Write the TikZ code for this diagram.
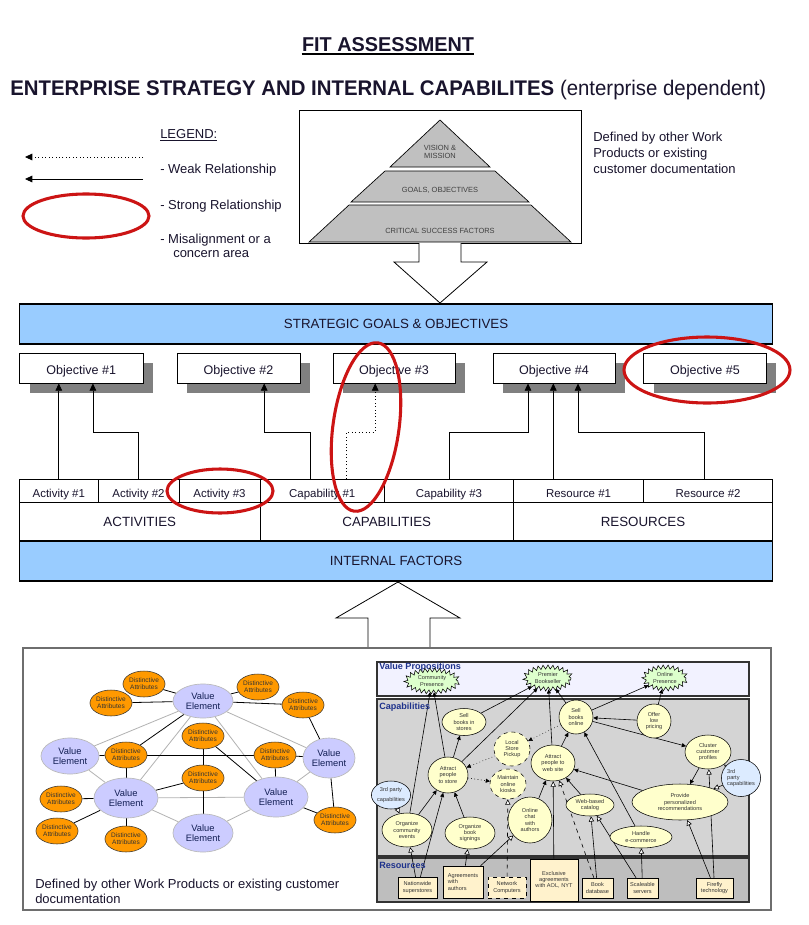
\documentclass[tikz,border=0pt]{standalone}
\usepackage{fontspec}
\setmainfont{Liberation Sans}
\usetikzlibrary{shapes.geometric,arrows.meta,calc,shadows,decorations.pathmorphing}
\pgfdeclarelayer{bg}
\pgfsetlayers{bg,main}
\newdimen\pxu \pxu=0.75pt
\definecolor{sblue}{RGB}{153,204,255}
\definecolor{pgray}{RGB}{192,192,192}
\definecolor{shad}{RGB}{128,128,128}
\definecolor{cred}{RGB}{204,20,20}
\definecolor{lav}{RGB}{204,204,255}
\definecolor{orng}{RGB}{255,153,0}
\definecolor{vpfill}{RGB}{242,242,255}
\definecolor{capgray}{RGB}{212,212,212}
\definecolor{resgray}{RGB}{190,190,190}
\definecolor{capy}{RGB}{255,255,204}
\definecolor{vpg}{RGB}{221,255,204}
\definecolor{resy}{RGB}{255,242,204}
\definecolor{tpblue}{RGB}{220,235,255}
\definecolor{navy}{RGB}{30,50,140}
\definecolor{txt}{RGB}{25,20,45}
\definecolor{framec}{RGB}{110,110,110}
\begin{document}
\begin{tikzpicture}[x=0.75pt,y=-0.75pt,
  every node/.style={text=txt},
  lbl/.style={inner sep=0, font=\fontsize{9.75}{11}\selectfont},
  arr/.style={-{Triangle[length=5.5pt,width=5pt]}, line width=0.6pt},
  redring/.style={draw=cred, line width=2.3pt},
  bar/.style={draw, fill=sblue, line width=0.8pt, inner sep=0, font=\fontsize{10}{12}\selectfont},
  objb/.style={draw, fill=white, line width=0.6pt, minimum height=30\pxu, inner sep=0,
     text height=10pt, text depth=0pt,
     font=\fontsize{9.4}{11}\selectfont,
     drop shadow={shadow xshift=7.5pt, shadow yshift=-7.5pt, fill=shad, opacity=1}},
  cell/.style={draw, fill=white, line width=0.6pt, inner sep=0, minimum height=23\pxu,
     text height=11pt, text depth=0pt, font=\fontsize{8.6}{10}\selectfont},
  catb/.style={draw, fill=white, line width=0.6pt, inner sep=0, minimum height=39\pxu, font=\fontsize{10}{12}\selectfont},
  pyrt/.style={inner sep=0, font=\fontsize{5.6}{6.5}\selectfont, text=black!75, align=center},
  ve/.style={ellipse, fill=lav, draw=gray!55, line width=0.5pt, inner sep=0, align=center,
     font=\fontsize{7}{8}\selectfont, text=navy!60!black},
  da/.style={ellipse, fill=orng, draw=black!80, line width=0.4pt, inner sep=0, align=center,
     minimum width=38\pxu, minimum height=26\pxu, font=\fontsize{4.9}{5.4}\selectfont, text=black!80},
  bk/.style={line width=0.6pt, draw=black},
  gy/.style={line width=0.6pt, draw=gray!60},
  capn/.style={ellipse, draw, fill=capy, inner sep=0, align=center, line width=0.4pt,
     font=\fontsize{4.2}{4.6}\selectfont, text=black!80},
  vp/.style={ellipse, draw, fill=vpg, inner sep=0, align=center, line width=0.4pt,
     decorate, decoration={zigzag, segment length=3.6pt, amplitude=1.5pt},
     font=\fontsize{4.2}{4.6}\selectfont, text=black!80},
  res/.style={draw, fill=resy, inner sep=0, align=center, line width=0.4pt,
     font=\fontsize{4.2}{4.6}\selectfont, text=black!80},
  band/.style={draw=black!80, line width=0.8pt},
  bandl/.style={inner sep=0, anchor=base west, font=\fontsize{6.8}{8}\selectfont\bfseries, text=navy},
  sa/.style={-{Triangle[length=3.2pt,width=3pt]}, line width=0.45pt},
  oa/.style={-{Triangle[fill=white,length=4pt,width=4pt]}, line width=0.45pt}
]
\begin{pgfonlayer}{bg}
\fill[white] (0,0) rectangle (808,925);
\end{pgfonlayer}
\useasboundingbox (0,0) rectangle (808,925);

% ---------- titles ----------
\node[inner sep=0, anchor=base] (title) at (388,51) {\resizebox{129pt}{10.5pt}{\bfseries FIT ASSESSMENT}};
\draw[line width=1.1pt] ([yshift=-2.3pt]title.base west) -- ([yshift=-2.3pt]title.base east);
\node[inner sep=0, anchor=base west] (sub) at (10,95) {\resizebox{567pt}{11.5pt}{\textbf{ENTERPRISE STRATEGY AND INTERNAL CAPABILITES} (enterprise dependent)}};

% ---------- legend ----------
\node[lbl, anchor=base west] (leg) at (160,138) {\underline{LEGEND:}};
\coordinate (ld1) at (143,157); \coordinate (ld2) at (25,157);
\draw[arr, dotted] (ld1) -- (ld2);
\coordinate (ls1) at (143,179); \coordinate (ls2) at (25,179);
\draw[arr] (ls1) -- (ls2);
\draw[redring] (86,216) ellipse [x radius=63, y radius=22];
\node[lbl, anchor=base west] (lw) at (160,173) {- Weak Relationship};
\node[lbl, anchor=base west] (lst) at (160,209) {- Strong Relationship};
\node[lbl, anchor=base west] (lm1) at (160,243) {- Misalignment or a};
\node[lbl, anchor=base west] (lm2) at (173,257) {concern area};

% ---------- pyramid ----------
\node[draw, line width=0.6pt, minimum width=282\pxu, minimum height=133\pxu, inner sep=0] (pyr) at (440,176.5) {};
\draw[fill=pgray, line width=0.5pt] (440,120) -- (490,167) -- (390,167) -- cycle;
\draw[fill=pgray, line width=0.5pt] (385,171) -- (495,171) -- (529,202) -- (351,202) -- cycle;
\draw[fill=pgray, line width=0.5pt] (349,205) -- (531,205) -- (571,242) -- (309,242) -- cycle;
\node[pyrt] (pv) at (440,152) {VISION \&\\MISSION};
\node[pyrt] (pg) at (440,190) {GOALS, OBJECTIVES};
\node[pyrt] (pc) at (440,231) {CRITICAL SUCCESS FACTORS};
\draw[fill=white, line width=0.6pt] (419,243) -- (419,262) -- (394,262) -- (440,303) -- (487,262) -- (461,262) -- (461,243);
\node[lbl, anchor=base west, align=left] (def1) at (593,141) {Defined by other Work};
\node[lbl, anchor=base west] (def2) at (593,157) {Products or existing};
\node[lbl, anchor=base west] (def3) at (593,173) {customer documentation};

% ---------- strategic goals ----------
\node[bar, minimum width=753\pxu, minimum height=40\pxu] (sg) at (396.1,324) {STRATEGIC GOALS \& OBJECTIVES};
\node[objb, minimum width=123.4\pxu] (o1) at (81.3,368) {Objective \#1};
\node[objb, minimum width=123\pxu] (o2) at (238.5,368) {Objective \#2};
\node[objb, minimum width=122\pxu] (o3) at (394,368) {Objective \#3};
\node[objb, minimum width=122\pxu] (o4) at (554,368) {Objective \#4};
\node[objb, minimum width=122.8\pxu] (o5) at (705,368) {Objective \#5};

% ---------- activities row ----------
\node[cell, minimum width=78.4\pxu] (a1) at (58.8,490.5) {Activity \#1};
\node[cell, minimum width=81\pxu] (a2) at (138.5,490.5) {Activity \#2};
\node[cell, minimum width=81\pxu] (a3) at (219.5,490.5) {Activity \#3};
\node[cell, minimum width=124.5\pxu] (c1) at (322.25,490.5) {Capability \#1};
\node[cell, minimum width=129\pxu] (c3) at (449,490.5) {Capability \#3};
\node[cell, minimum width=130.1\pxu] (r1) at (578.55,490.5) {Resource \#1};
\node[cell, minimum width=129\pxu] (r2) at (708.1,490.5) {Resource \#2};
\node[catb, minimum width=240.4\pxu] (ca) at (139.8,521.5) {ACTIVITIES};
\node[catb, minimum width=253.5\pxu] (cc) at (386.75,521.5) {CAPABILITIES};
\node[catb, minimum width=259.1\pxu] (cr) at (643.05,521.5) {RESOURCES};
\node[bar, minimum width=753\pxu, minimum height=40\pxu] (inf) at (396.1,561) {INTERNAL FACTORS};

% ---------- relationship arrows ----------
\draw[arr] (a1.north) -- (a1.north |- o1.south);
\coordinate (k1) at (92.9,432);
\draw[arr] (a2.north) |- (k1) -- (k1 |- o1.south);
\coordinate (s2) at (310.2,479); \coordinate (k2) at (264.2,432);
\draw[arr] (s2) |- (k2) -- (k2 |- o2.south);
\coordinate (s3) at (346.8,479); \coordinate (k3) at (375.2,432);
\draw[arr, dotted] (s3) |- (k3) -- (k3 |- o3.south);
\coordinate (k4a) at (528,432);
\draw[arr] (c3.north) |- (k4a) -- (k4a |- o4.south);
\coordinate (s4b) at (553.3,479);
\draw[arr] (s4b) -- (s4b |- o4.south);
\coordinate (s4c) at (704.5,479); \coordinate (k4c) at (578,432);
\draw[arr] (s4c) |- (k4c) -- (k4c |- o4.south);

% ---------- red rings ----------
\draw[redring, rotate around={-8:(366,427)}] (366,427) ellipse [x radius=33, y radius=85];
\draw[redring] (707,370) ellipse [x radius=83, y radius=33];
\draw[redring] (220,491) ellipse [x radius=53, y radius=22];

% ---------- up arrow ----------
\draw[fill=white, line width=0.6pt] (430,648) -- (430,618) -- (460,618) -- (398,582) -- (336,618) -- (368,618) -- (368,648);

% ---------- bottom frame ----------
\draw[framec, line width=1.1pt] (23,648) rectangle (771,910);

% ---------- left network ----------
\node[ve, minimum width=60\pxu, minimum height=34\pxu] (vt) at (203,701) {Value\\Element};
\node[ve, minimum width=58\pxu, minimum height=36\pxu] (vl) at (70,756) {Value\\Element};
\node[ve, minimum width=52\pxu, minimum height=40\pxu] (vr) at (329,758) {Value\\Element};
\node[ve, minimum width=64\pxu, minimum height=40\pxu] (vml) at (126,798) {Value\\Element};
\node[ve, minimum width=64\pxu, minimum height=40\pxu] (vmr) at (276,797) {Value\\Element};
\node[ve, minimum width=60\pxu, minimum height=38\pxu] (vb) at (203,833) {Value\\Element};
\node[da] (d1) at (144,684) {Distinctive\\Attributes};
\node[da] (d2) at (111,703) {Distinctive\\Attributes};
\node[da] (d3) at (258,687) {Distinctive\\Attributes};
\node[da] (d4) at (303,705) {Distinctive\\Attributes};
\node[da] (d5) at (203,736) {Distinctive\\Attributes};
\node[da] (d6) at (126,755) {Distinctive\\Attributes};
\node[da] (d7) at (275,755) {Distinctive\\Attributes};
\node[da] (d8) at (203,778) {Distinctive\\Attributes};
\node[da] (d9) at (61,799) {Distinctive\\Attributes};
\node[da] (d10) at (57,831) {Distinctive\\Attributes};
\node[da] (d11) at (126,839) {Distinctive\\Attributes};
\node[da] (d12) at (335,820) {Distinctive\\Attributes};
\begin{pgfonlayer}{bg}
\draw[gy] (vt) -- (vl);
\draw[gy] (vt) -- (vml);
\draw[gy] (vt) -- (vmr);
\draw[gy] (vt) -- (vr);
\draw[gy] (vml) -- (vmr);
\draw[gy] (vml) -- (vb);
\draw[gy] (vmr) -- (vb);
\draw[gy] (vl) -- (vml);
\draw[gy] (vr) -- (vmr);
\draw[bk] (d1) -- (vt);
\draw[bk] (d2) -- (vt);
\draw[bk] (d3) -- (vt);
\draw[bk] (vt) -- (d4);
\draw[bk] (d4) -- (vr);
\draw[bk] (vt) -- (d6);
\draw[bk] (vl) -- (d6);
\draw[bk] (d6) -- (d7);
\draw[bk] (d7) -- (vr);
\draw[bk] (d6) -- (vml);
\draw[bk] (d7) -- (vmr);
\draw[bk] (d5) -- (d8);
\draw[bk] (d8) -- (vb);
\draw[bk] (d8) -- (vml);
\draw[bk] (d5) -- (vmr);
\draw[bk] (vr) -- (d12);
\draw[bk] (vmr) -- (d12);
\draw[bk] (vml) -- (d9);
\draw[bk] (vml) -- (d10);
\draw[bk] (vml) -- (d11);
\end{pgfonlayer}
\node[lbl, anchor=base west] (bd1) at (35,888) {Defined by other Work Products or existing customer};
\node[lbl, anchor=base west] (bd2) at (35,903) {documentation};

% ---------- right panel ----------
\begin{pgfonlayer}{bg}
\draw[band, fill=vpfill] (377,662) rectangle (749,696);
\draw[band, fill=capgray] (377,699) rectangle (749,856);
\draw[band, fill=resgray] (377,858) rectangle (749,902);
\end{pgfonlayer}
\node[bandl] (lvp) at (379,669) {Value Propositions};
\node[bandl] (lcap) at (379,709) {Capabilities};
\node[bandl] (lres) at (379,868) {Resources};

\node[vp, minimum width=52\pxu, minimum height=22\pxu] (vcp) at (432,681) {Community\\Presence};
\node[vp, minimum width=46\pxu, minimum height=22\pxu] (vpb) at (548,678) {Premier\\Bookseller};
\node[vp, minimum width=42\pxu, minimum height=22\pxu] (vop) at (665,678) {Online\\Presence};

\node[capn, minimum width=44\pxu, minimum height=27\pxu] (sbs) at (464,722) {Sell\\books in\\stores};
\node[capn, dashed, minimum width=36\pxu, minimum height=34\pxu] (lsp) at (512,749) {Local\\Store\\Pickup};
\node[capn, minimum width=40\pxu, minimum height=36\pxu] (aps) at (448,775) {Attract\\people\\to store};
\node[capn, dashed, minimum width=36\pxu, minimum height=30\pxu] (mok) at (508,784) {Maintain\\online\\kiosks};
\node[capn, minimum width=44\pxu, minimum height=36\pxu] (apw) at (553,763) {Attract\\people to\\web site};
\node[capn, fill=tpblue, minimum width=34\pxu, minimum height=28\pxu] (tpl) at (391,795) {3rd party\\[3pt]capabilities};
\node[capn, minimum width=50\pxu, minimum height=34\pxu] (oce) at (407,830) {Organize\\community\\events};
\node[capn, minimum width=50\pxu, minimum height=32\pxu] (obs) at (470,833) {Organize\\book\\signings};
\node[capn, minimum width=44\pxu, minimum height=46\pxu] (oca) at (530,820) {Online\\chat\\with\\authors};
\node[capn, minimum width=34\pxu, minimum height=34\pxu] (sbo) at (576,717) {Sell\\books\\online};
\node[capn, minimum width=34\pxu, minimum height=34\pxu] (olp) at (654,721) {Offer\\low\\pricing};
\node[capn, minimum width=48\pxu, minimum height=22\pxu] (wbc) at (590,805) {Web-based\\catalog};
\node[capn, minimum width=62\pxu, minimum height=22\pxu] (hec) at (641,837) {Handle\\e-commerce};
\node[capn, minimum width=46\pxu, minimum height=34\pxu] (ccp) at (708,752) {Cluster\\customer\\profiles};
\node[capn, minimum width=96\pxu, minimum height=36\pxu] (ppr) at (680,802) {Provide\\personalized\\recommendations};
\node[capn, fill=tpblue, align=left, minimum width=38\pxu, minimum height=37\pxu] (tpr) at (741,778) {3rd\\party\\capabilities};

\node[res, minimum width=39\pxu, minimum height=21\pxu] (rns) at (417.5,887.5) {Nationwide\\superstores};
\node[res, align=left, minimum width=40\pxu, minimum height=32\pxu] (raa) at (463,882) {Agreements\\with\\authors};
\node[res, dashed, minimum width=38\pxu, minimum height=21\pxu] (rnc) at (507,887.5) {Network\\Computers};
\node[res, minimum width=48\pxu, minimum height=42\pxu] (rex) at (554,880) {Exclusive\\agreements\\with AOL, NYT};
\node[res, minimum width=31\pxu, minimum height=20\pxu] (rbd) at (597.5,888) {Book\\database};
\node[res, minimum width=31\pxu, minimum height=20\pxu] (rss) at (642.5,888) {Scaleable\\servers};
\node[res, minimum width=37\pxu, minimum height=20\pxu] (rff) at (714.5,888) {Firefly\\technology};

\begin{pgfonlayer}{bg}
\draw[sa] (oce) -- (vcp);
\draw[sa] (aps) -- (vcp);
\draw[sa] (sbs) -- (vpb);
\draw[sa] (aps) -- (vpb);
\draw[sa] (apw) -- (vpb);
\draw[sa] (sbo) -- (vpb);
\draw[sa] (sbo) -- (vop);
\draw[sa] (olp) -- (vop);
\draw[sa] (aps) -- (sbs);
\draw[sa] (apw) -- (sbo);
\draw[sa] (olp) -- (sbo);
\draw[sa] (sbo) -- (ccp);
\draw[sa] (ccp) -- (ppr);
\draw[sa] (ppr) -- (apw);
\draw[sa] (hec) -- (sbo);
\draw[sa] (wbc) -- (apw);
\draw[sa] (oca) -- (apw);
\draw[sa] (oce) -- (aps);
\draw[sa] (obs) -- (aps);
\draw[sa, dotted] (sbo) -- (lsp);
\draw[sa, dotted] (lsp) -- (aps);
\draw[sa, dotted] (aps) -- (mok);
\draw[oa] (rns) -- (oce);
\draw[sa] (rns) -- (aps);
\draw[oa] (raa) -- (obs);
\draw[oa] (raa) -- (oca);
\draw[oa, dashed] (rnc) -- (mok);
\draw[oa] (rex) -- (apw);
\draw[oa] (rbd) -- (wbc);
\draw[oa, dashed] (rbd) -- (apw);
\draw[oa] (rss) -- (hec);
\draw[oa] (rss) -- (wbc);
\draw[oa] (rff) -- (ppr);
\draw[oa] (rff) -- (ccp);
\draw[oa] (tpr) -- (ccp);
\draw[oa] (tpr) -- (ppr);
\draw[oa] (tpl) -- (oce);
\end{pgfonlayer}
\end{tikzpicture}
\end{document}
